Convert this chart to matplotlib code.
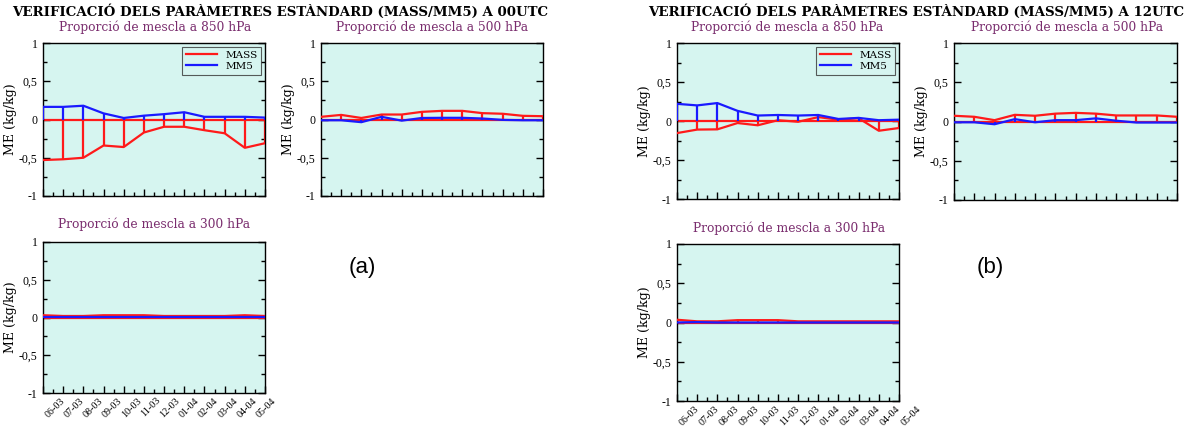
import numpy as np
import matplotlib
matplotlib.use("Agg")
import matplotlib.pyplot as plt

# --- data ------------------------------------------------------------------ #
MONTHS = ["06-03", "07-03", "08-03", "09-03", "10-03", "11-03",
          "12-03", "01-04", "02-04", "03-04", "04-04", "05-04"]

A850_MASS = [-0.53, -0.52, -0.50, -0.34, -0.36, -0.17, -0.095, -0.095, -0.14, -0.18, -0.37, -0.31]
A850_MM5 = [0.165, 0.165, 0.18, 0.08, 0.02, 0.05, 0.07, 0.095, 0.035, 0.035, 0.035, 0.025]
A500_MASS = [0.035, 0.06, 0.02, 0.065, 0.065, 0.10, 0.113, 0.113, 0.083, 0.075, 0.048, 0.043]
A500_MM5 = [-0.01, -0.01, -0.035, 0.035, -0.015, 0.02, 0.022, 0.022, 0.013, -0.005, -0.01, -0.01]
A300_MASS = [0.03, 0.02, 0.02, 0.03, 0.03, 0.03, 0.02, 0.02, 0.02, 0.02, 0.03, 0.02]
A300_MM5 = [0.005, 0.005, 0.005, 0.005, 0.005, 0.005, 0.005, 0.005, 0.005, 0.005, 0.005, 0.005]

B850_MASS = [-0.155, -0.11, -0.107, -0.026, -0.055, 0.01, -0.01, 0.05, 0.017, 0.035, -0.125, -0.09]
B850_MM5 = [0.22, 0.20, 0.23, 0.13, 0.07, 0.077, 0.07, 0.077, 0.026, 0.04, 0.01, 0.017]
B500_MASS = [0.073, 0.06, 0.017, 0.085, 0.073, 0.10, 0.11, 0.10, 0.077, 0.077, 0.077, 0.06]
B500_MM5 = [-0.01, -0.01, -0.035, 0.03, -0.01, 0.017, 0.017, 0.04, 0.01, -0.013, -0.013, -0.013]
B300_MASS = [0.035, 0.015, 0.015, 0.03, 0.03, 0.03, 0.015, 0.015, 0.015, 0.015, 0.015, 0.015]
B300_MM5 = [0.0, 0.005, 0.0, 0.0, 0.0, 0.0, 0.0, 0.0, 0.0, 0.0, 0.0, 0.0]

TITLE = "VERIFICACIÓ DELS PARÀMETRES ESTÀNDARD (MASS/MM5) A {}"
SUB = "Proporció de mescla a {} hPa"

# --- style ----------------------------------------------------------------- #
W, H = 1185, 428
RED, BLUE = "#ff1a1a", "#1a1aff"
BG = "#d6f5f0"
PURPLE = "#7a2d6e"
SERIF = "DejaVu Serif"
TIMES = "Liberation Serif"

fig = plt.figure(figsize=(W / 100, H / 100), dpi=100)


def px_axes(l, t, r, b):
    return fig.add_axes([l / W, 1 - b / H, (r - l) / W, (b - t) / H])


def panel(rect, mass, mm5, level, sub_xy, legend=False, labels=None):
    ax = px_axes(*rect)
    x = np.arange(len(MONTHS))
    ax.set_facecolor(BG)
    ax.axhline(0, color=RED, lw=1.6, zorder=2)
    ax.vlines(x, 0, mass, color=RED, lw=1.6, zorder=2)
    ax.plot(x, mass, color=RED, lw=1.6, label="MASS", zorder=3)
    ax.vlines(x, 0, mm5, color=BLUE, lw=1.6, zorder=4)
    ax.plot(x, mm5, color=BLUE, lw=1.6, label="MM5", zorder=5)
    ax.set_xlim(0, len(MONTHS) - 1)
    ax.set_ylim(-1, 1)
    ax.set_xticks(x)
    ax.set_xticks(x[:-1] + 0.5, minor=True)
    ax.set_xticklabels([])
    ax.set_yticks([-1, -0.5, 0, 0.5, 1])
    ax.set_yticklabels(["-1", "-0,5", "0", "0,5", "1"], family=TIMES, fontsize=8.5)
    ax.set_yticks([-0.75, -0.25, 0.25, 0.75], minor=True)
    ax.tick_params(axis="y", which="both", direction="in", left=True, right=True, pad=4)
    ax.tick_params(axis="x", which="both", direction="in", bottom=True, top=False)
    ax.tick_params(which="major", length=5, width=1)
    ax.tick_params(which="minor", length=3, width=1)
    for s in ax.spines.values():
        s.set_linewidth(1)
    ax.set_ylabel("ME (kg/kg)", family=SERIF, fontsize=9, labelpad=1)
    fig.text(sub_xy[0] / W, 1 - sub_xy[1] / H, SUB.format(level), family=SERIF,
             fontsize=8.8, color=PURPLE, ha="center", va="center")
    if legend:
        leg = ax.legend(loc="upper right", prop={"family": SERIF, "size": 7.5},
                        frameon=True, fancybox=False, handlelength=3.0,
                        borderaxespad=0.35, labelspacing=0.2, borderpad=0.35,
                        handletextpad=0.8)
        leg.get_frame().set_edgecolor("#333333")
        leg.get_frame().set_facecolor("none")
        leg.get_frame().set_linewidth(0.8)
    if labels is not None:
        x0, step = labels
        for i, m in enumerate(MONTHS):
            ax.text(x0 + i * step, -0.02, m, transform=ax.get_xaxis_transform(),
                    rotation=45, ha="right", va="top", family=TIMES, fontsize=7.3)
    return ax


# (a) 00UTC
fig.text(280 / W, 1 - 12 / H, TITLE.format("00UTC"), family=SERIF, fontweight="bold",
         fontsize=9.6, ha="center", va="center")
panel((43, 43, 265, 196), A850_MASS, A850_MM5, 850, (155, 27), legend=True)
panel((321, 43, 543, 196), A500_MASS, A500_MM5, 500, (432, 27))
panel((43, 242, 265, 393), A300_MASS, A300_MM5, 300, (154, 224), labels=(1.15, 0.954))
fig.text(362 / W, 1 - 268 / H, "(a)", family="Liberation Sans", fontsize=16,
         ha="center", va="center")

# (b) 12UTC
fig.text(916 / W, 1 - 12 / H, TITLE.format("12UTC"), family=SERIF, fontweight="bold",
         fontsize=9.6, ha="center", va="center")
panel((677, 43, 899, 199), B850_MASS, B850_MM5, 850, (787, 27), legend=True)
panel((954, 43, 1177, 200), B500_MASS, B500_MM5, 500, (1067, 27))
panel((677, 244, 899, 401), B300_MASS, B300_MM5, 300, (789, 228), labels=(1.15, 1.0))
fig.text(990 / W, 1 - 268 / H, "(b)", family="Liberation Sans", fontsize=16,
         ha="center", va="center")

fig.savefig("out.png", dpi=100, facecolor="white")
